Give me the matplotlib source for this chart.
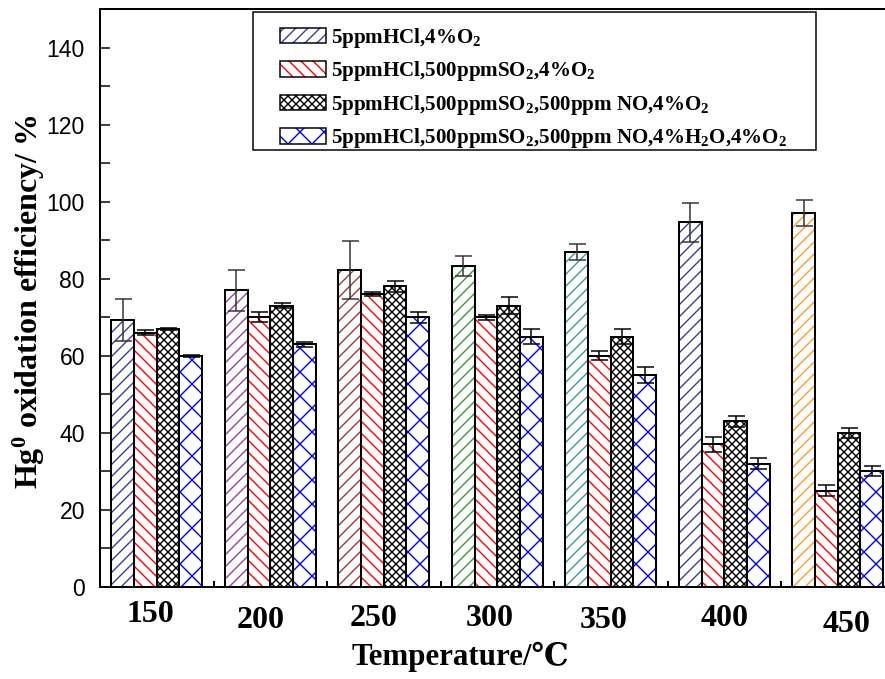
import matplotlib
matplotlib.use("Agg")
from matplotlib import pyplot as plt
from matplotlib import transforms
import numpy as np

# 字体
plt.rcParams['font.family'] = ['Liberation Serif', 'DejaVu Serif']
plt.rcParams['mathtext.fontset'] = 'custom'
plt.rcParams['mathtext.rm'] = 'Liberation Serif:bold'
plt.rcParams['mathtext.bf'] = 'Liberation Serif:bold'
plt.rcParams['mathtext.default'] = 'bf'
plt.rcParams['hatch.linewidth'] = 1.4

# 数据
temps = ['150', '200', '250', '300', '350', '400', '450']
s1 = [69.3, 77.0, 82.3, 83.2, 86.9, 94.6, 97.1]
s1_err = [5.5, 5.3, 7.5, 2.6, 2.0, 5.0, 3.3]
s2 = [66.0, 70.0, 76.0, 70.0, 60.0, 37.0, 25.0]
s2_err = [0.6, 1.3, 0.6, 0.7, 1.2, 2.0, 1.4]
s3 = [67.0, 73.0, 78.0, 73.0, 65.0, 43.0, 40.0]
s3_err = [0.2, 0.6, 1.5, 2.2, 2.0, 1.5, 1.3]
s4 = [60.0, 63.0, 70.0, 65.0, 55.0, 32.0, 30.0]
s4_err = [0.3, 0.6, 1.4, 2.0, 2.0, 1.4, 1.3]
labels = ['5ppmHCl,4%O$_2$',
          '5ppmHCl,500ppmSO$_2$,4%O$_2$',
          '5ppmHCl,500ppmSO$_2$,500ppm NO,4%O$_2$',
          '5ppmHCl,500ppmSO$_2$,500ppm NO,4%H$_2$O,4%O$_2$']

# 样式
s1_colors = ['#3c3ca8', '#9b3fa6', '#9a3a3a', '#3a9a3a', '#3a9a9a', '#3c3ca8', '#ff9a33']
series = [s1, s2, s3, s4]
errs = [s1_err, s2_err, s3_err, s4_err]
hatch_colors = [s1_colors, 'red', 'black', 'blue']
legend_colors = ['#3c3ca8', 'red', 'black', 'blue']
hatches = ['//', '\\\\', 'xxx', 'x']
err_colors = ['#333333', 'black', 'black', 'black']
# 刻度标签偏移 (px)
lab_dx = [-6, -10, -10, -8, -7, 0, 9]
lab_dy = [28, 33, 31, 31, 34, 31, 38]

fig = plt.figure(figsize=(885 / 72, 679 / 72), dpi=72)
ax = fig.add_axes([100 / 885, 92 / 679, 794.5 / 885, 578 / 679])

x = np.arange(1, len(temps) + 1)
width = 0.2
handles = []
for k in range(4):
    pos = x + (k - 1.5) * width
    ax.bar(pos, series[k], width, color='white', edgecolor=hatch_colors[k],
           hatch=hatches[k], linewidth=0)
    ax.bar(pos, series[k], width, fill=False, edgecolor='black', linewidth=2)
    ax.errorbar(pos, series[k], yerr=errs[k], fmt='none', ecolor=err_colors[k],
                elinewidth=1.5, capsize=8.5, capthick=1.5)
    hp = plt.Rectangle((0, 0), 1, 1, facecolor='white', edgecolor=legend_colors[k],
                       hatch=hatches[k], linewidth=0)
    op = plt.Rectangle((0, 0), 1, 1, fill=False, edgecolor='black', linewidth=1.5)
    handles.append((hp, op))

ax.set_xlim(0.5, 7.5)
ax.set_ylim(0, 150)
ax.set_yticks(range(0, 141, 20))
ax.set_yticks(range(10, 150, 20), minor=True)
ax.set_xticks(x[:-1] + 0.5)
ax.set_xticklabels([])
ax.tick_params(axis='y', which='major', direction='in', length=10, width=1.5,
               pad=15, labelsize=23, labelfontfamily='Liberation Sans')
ax.tick_params(axis='y', which='minor', direction='in', length=10, width=1.5)
ax.tick_params(axis='x', which='major', direction='in', length=6, width=2)
for sp in ax.spines.values():
    sp.set_linewidth(2)

# x轴刻度标签
trans = transforms.blended_transform_factory(ax.transData, ax.transAxes)
for i, t in enumerate(temps):
    tr = transforms.offset_copy(trans, fig=fig, x=lab_dx[i], y=-lab_dy[i], units='dots')
    ax.text(x[i], 0, t, transform=tr, ha='center', va='center',
            fontsize=32, fontweight='bold')

fig.text(460 / 885, 1 - 657 / 679, 'Temperature/℃', ha='center', va='center',
         fontsize=31, fontweight='bold')
fig.text(29 / 885, 1 - 302 / 679, 'Hg$^0$ oxidation efficiency/ %', rotation=90,
         ha='center', va='center', fontsize=32, fontweight='bold')

# 图例
leg = ax.legend(handles, labels, loc='upper left',
                bbox_to_anchor=(280 / 885, 1 - 26 / 679), bbox_transform=fig.transFigure,
                borderaxespad=0, borderpad=0, frameon=False,
                prop={'family': 'Liberation Serif', 'weight': 'bold', 'size': 21},
                handlelength=2.2, handleheight=0.75, handletextpad=0.25,
                labelspacing=0.45)
frame = plt.Rectangle((253 / 885, 1 - 150 / 679), 563 / 885, 138 / 679,
                      transform=fig.transFigure, fill=False, edgecolor='black',
                      linewidth=1.5, zorder=5)
fig.patches.append(frame)

plt.savefig('out.png', dpi=72)
